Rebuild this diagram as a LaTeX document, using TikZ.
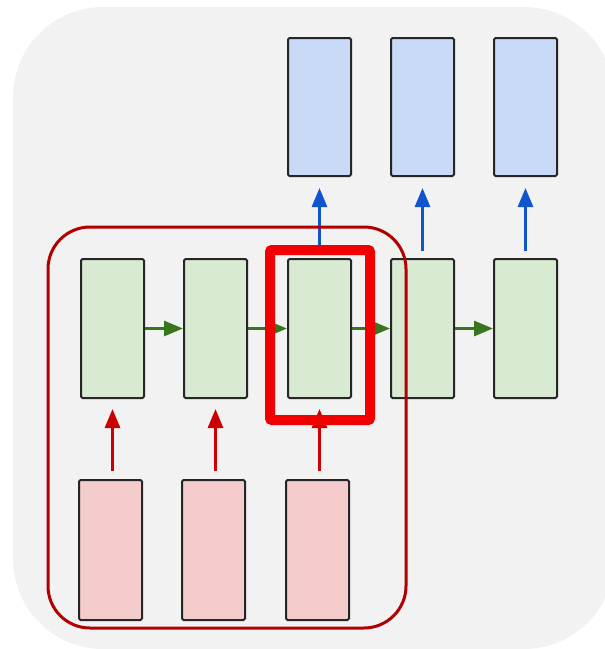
\documentclass[tikz,border=0pt]{standalone}
\usetikzlibrary{arrows.meta}
\definecolor{bggrey}{HTML}{F2F2F2}
\definecolor{gfill}{HTML}{D9EAD3}
\definecolor{bfill}{HTML}{C9DAF8}
\definecolor{pfill}{HTML}{F4CCCC}
\definecolor{garrow}{HTML}{38761D}
\definecolor{barrow}{HTML}{1155CC}
\definecolor{rarrow}{HTML}{CC0000}
\definecolor{darkred}{HTML}{B00000}
\definecolor{brightred}{HTML}{F00000}
\definecolor{edge}{HTML}{262626}
\tikzset{
  cell/.style={draw=edge, line width=2pt, rounded corners=1.5pt, minimum width=63pt, minimum height=139pt, inner sep=0pt, anchor=north west},
  gcell/.style={cell, fill=gfill},
  bcell/.style={cell, fill=bfill, minimum height=138pt},
  pcell/.style={cell, fill=pfill, minimum height=140pt},
  tip/.style={-{Triangle[length=19pt,width=15pt]}, line width=3pt},
}
\begin{document}
\begin{tikzpicture}[x=1pt,y=-1pt]
\useasboundingbox (0,0) rectangle (605,649);
\clip (0,0) rectangle (605,649);
\fill[bggrey, rounded corners=90pt] (13,7) rectangle (614,649);
% green hidden cells
\node[gcell] (g1) at (80,258) {};
\node[gcell] (g2) at (183,258) {};
\node[gcell] (g3) at (287,258) {};
\node[gcell] (g4) at (390,258) {};
\node[gcell] (g5) at (493,258) {};
% blue outputs
\node[bcell] (b3) at (287,37) {};
\node[bcell] (b4) at (390,37) {};
\node[bcell] (b5) at (493,37) {};
% pink inputs
\node[pcell] (p1) at (78,479) {};
\node[pcell] (p2) at (181,479) {};
\node[pcell] (p3) at (285,479) {};
% green arrows
\foreach \a/\b in {g1/g2,g2/g3,g3/g4,g4/g5}
  \draw[tip, garrow] (\a.east) -- (\b.west);
% blue arrows
\foreach \a/\b in {g3/b3,g4/b4,g5/b5}
  \draw[tip, barrow, shorten <=7pt, shorten >=11pt] (\a.north) -- (\b.south);
% red arrows
\foreach \a/\b in {p1/g1,p2/g2,p3/g3}
  \draw[tip, rarrow, shorten <=8pt, shorten >=10pt] (\b.south |- \a.north) -- (\b.south);
% frames
\coordinate (f1) at (48,227);
\coordinate (f2) at (406,628);
\draw[darkred, line width=3pt, rounded corners=42pt] (f1) rectangle (f2);
\coordinate (h1) at (270,250);
\coordinate (h2) at (370,420);
\draw[brightred, line width=10pt, rounded corners=2pt] (h1) rectangle (h2);
\end{tikzpicture}
\end{document}
